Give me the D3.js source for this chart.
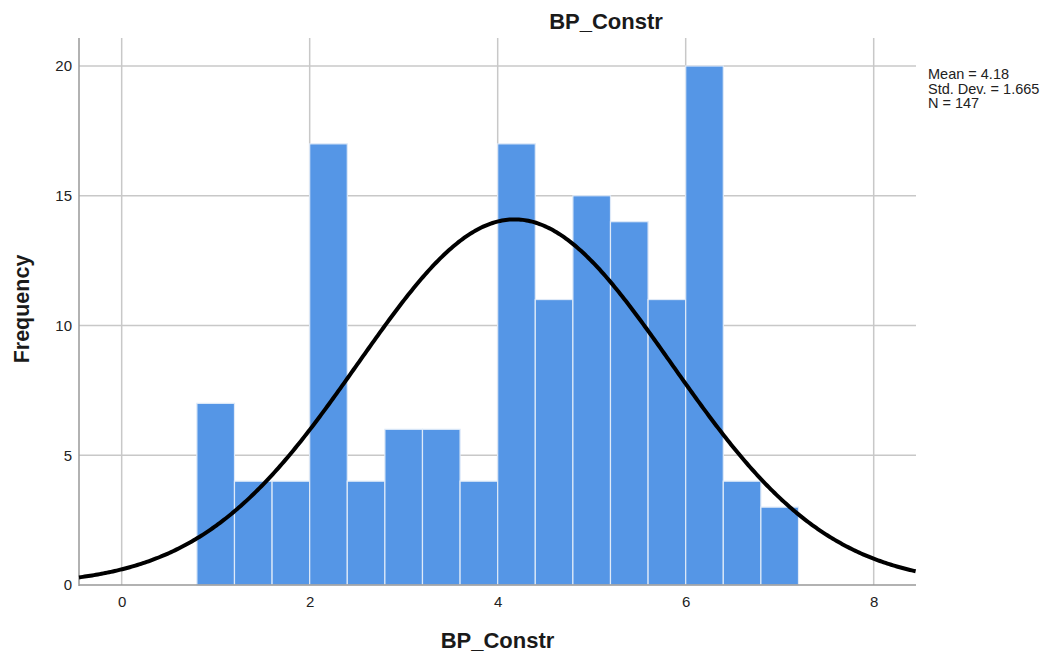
<!DOCTYPE html>
<html><head><meta charset="utf-8">
<script src="https://cdn.jsdelivr.net/npm/d3@7"></script>
<style>body{margin:0;background:#fff;}svg{display:block;font-family:Arial,"Liberation Sans",sans-serif;}</style>
</head><body>
<svg id="c" width="1053" height="655"></svg>
<script>
const binStarts = [0.8,1.2,1.6,2.0,2.4,2.8,3.2,3.6,4.0,4.4,4.8,5.2,5.6,6.0,6.4,6.8];
const binWidth = 0.4;
const counts = [7,4,4,17,4,6,6,4,17,11,15,14,11,20,4,3];
const xTicks = [0,2,4,6,8];
const yTicks = [0,5,10,15,20];
const stats = {mean:4.18, sd:1.665, n:147};
const legendLines = ["Mean = 4.18","Std. Dev. = 1.665","N = 147"];

const FONT = "Arial,'Liberation Sans',sans-serif";
const svg = d3.select("#c");
const L=79, R=916, T=38, B=585;
const x = d3.scaleLinear().domain([-0.454,8.45]).range([L,R]);
const y = d3.scaleLinear().domain([0,20]).range([B,66]);

// grid
svg.append("g").selectAll("line").data(xTicks).join("line")
  .attr("x1",d=>x(d)).attr("x2",d=>x(d)).attr("y1",T).attr("y2",B)
  .attr("stroke","#c8c8c8").attr("stroke-width",1.5);
svg.append("g").selectAll("line").data(yTicks.filter(d=>d>0)).join("line")
  .attr("x1",L).attr("x2",R).attr("y1",d=>y(d)).attr("y2",d=>y(d))
  .attr("stroke","#c8c8c8").attr("stroke-width",1.5);

// bars
svg.append("g").selectAll("rect").data(counts).join("rect")
  .attr("x",(d,i)=>x(binStarts[i]))
  .attr("width",(d,i)=>x(binStarts[i]+binWidth)-x(binStarts[i]))
  .attr("y",d=>y(d)).attr("height",d=>B-y(d))
  .attr("fill","#5596e6").attr("stroke","#dfeaf8").attr("stroke-width",1.2);

// axis lines
svg.append("line").attr("x1",L).attr("x2",L).attr("y1",T).attr("y2",B+1).attr("stroke","#999").attr("stroke-width",1.5);
svg.append("line").attr("x1",L).attr("x2",R).attr("y1",B).attr("y2",B).attr("stroke","#999").attr("stroke-width",1.5);

// tick labels via d3 axes
const xa = svg.append("g").attr("transform",`translate(0,${B})`)
  .call(d3.axisBottom(x).tickValues(xTicks).tickSize(0).tickPadding(11).tickFormat(d3.format("d")));
xa.select(".domain").remove();
xa.selectAll("text").attr("font-size",15).attr("fill","#222").style("font-family",FONT);
const ya = svg.append("g").attr("transform",`translate(${L},0)`)
  .call(d3.axisLeft(y).tickValues(yTicks).tickSize(0).tickPadding(7).tickFormat(d3.format("d")));
ya.select(".domain").remove();
ya.selectAll("text").attr("font-size",15).attr("fill","#222").style("font-family",FONT);

// normal curve from the stated statistics
const scale = stats.n*binWidth/(stats.sd*Math.sqrt(2*Math.PI));
const curveX = d3.range(-0.454,8.451,0.02);
const line = d3.line().x(d=>x(d)).y(d=>y(scale*Math.exp(-0.5*((d-stats.mean)/stats.sd)**2)));
svg.append("path").datum(curveX).attr("d",line).attr("fill","none").attr("stroke","#000").attr("stroke-width",4);

// titles
svg.append("text").attr("x",606).attr("y",29).attr("text-anchor","middle")
  .attr("font-size",22).attr("font-weight","bold").attr("fill","#1a1a1a").text("BP_Constr");
svg.append("text").attr("x",(L+R)/2).attr("y",648).attr("text-anchor","middle")
  .attr("font-size",22).attr("font-weight","bold").attr("fill","#1a1a1a").text("BP_Constr");
svg.append("text").attr("transform",`translate(29,309) rotate(-90)`).attr("text-anchor","middle")
  .attr("font-size",21.5).attr("font-weight","bold").attr("fill","#1a1a1a").text("Frequency");

// legend
svg.append("g").selectAll("text").data(legendLines).join("text")
  .attr("x",928).attr("y",(d,i)=>79+i*14.5).attr("font-size",14.5).attr("fill","#222").style("font-family",FONT).text(d=>d);
</script>
</body></html>
